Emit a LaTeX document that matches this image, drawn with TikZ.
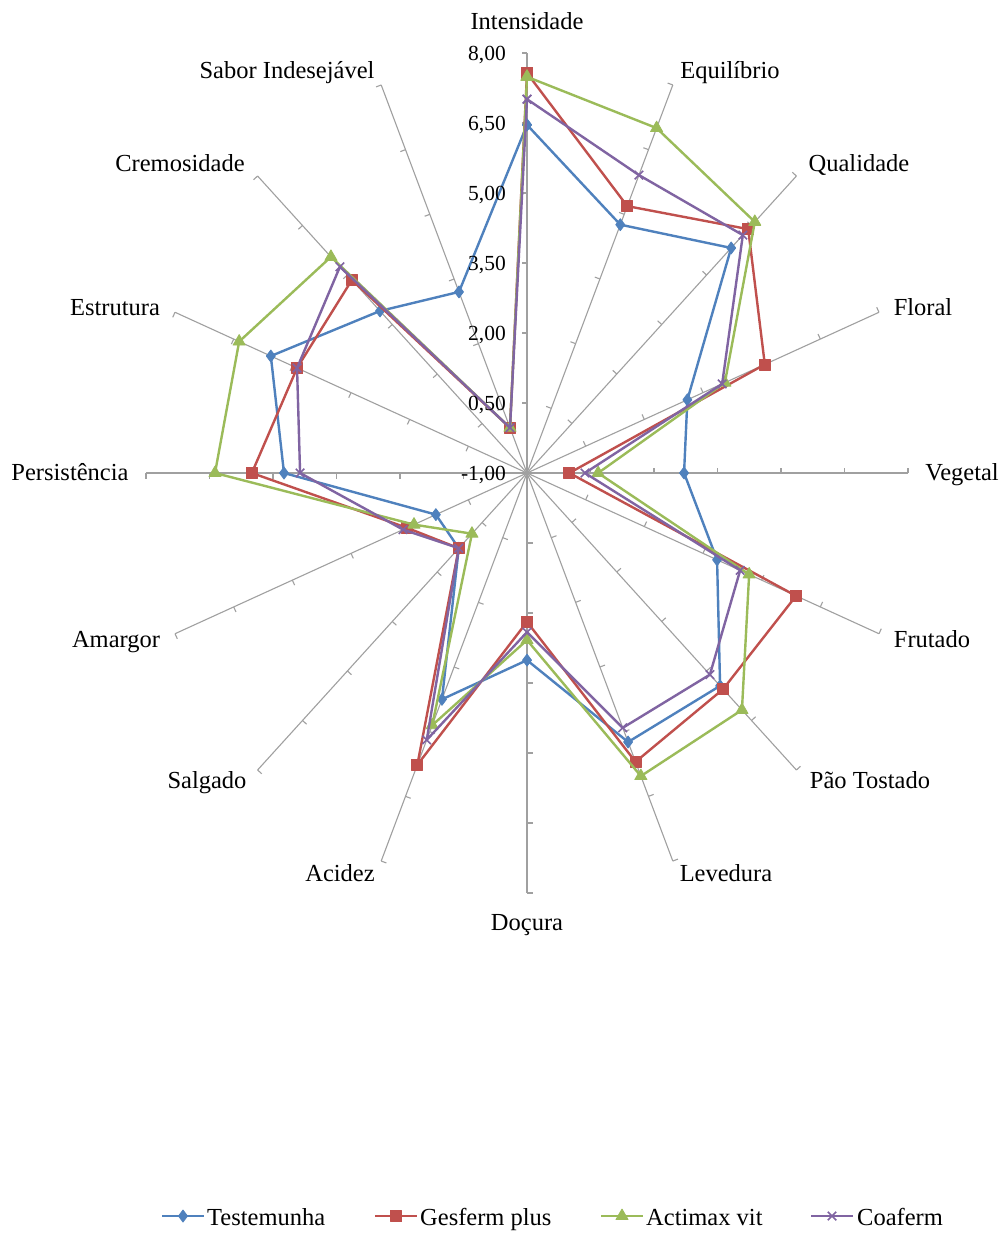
\documentclass[tikz,border=0pt]{standalone}
\usepackage{fontspec}
\setmainfont{Liberation Serif}
\usetikzlibrary{plotmarks}
\definecolor{cT}{HTML}{4F81BD}
\definecolor{cG}{HTML}{C0504D}
\definecolor{cA}{HTML}{9BBB59}
\definecolor{cC}{HTML}{8064A2}
\definecolor{axisgray}{HTML}{A0A0A0}
\tikzset{
  axisline/.style={draw=axisgray, line width=1.1pt},
  lbl/.style={font=\fontsize{24.5}{28}\selectfont, inner sep=0pt, anchor=base},
  vallbl/.style={font=\fontsize{21.5}{24}\selectfont, inner sep=0pt, anchor=base east},
  legtxt/.style={font=\fontsize{24.5}{28}\selectfont, inner sep=0pt, anchor=base west},
  serT/.style={draw=cT, line width=2.4pt, line join=round, mark=diamond*, mark size=6pt, mark options={solid, fill=cT, draw=cT, line width=0.8pt}},
  serG/.style={draw=cG, line width=2.4pt, line join=round, mark=square*, mark size=5.5pt, mark options={solid, fill=cG, draw=cG, line width=0.8pt}},
  serA/.style={draw=cA, line width=2.4pt, line join=round, mark=triangle*, mark size=7pt, mark options={solid, fill=cA, draw=cA, line width=0.8pt}},
  serC/.style={draw=cC, line width=2.4pt, line join=round, mark=x, mark size=6pt, mark options={solid, draw=cC, line width=1.6pt}},
}
\begin{document}
\begin{tikzpicture}[x=1pt,y=1pt]
\fill[white] (0,0) rectangle (1008,-1233);
\useasboundingbox (0,0) rectangle (1008,-1233);
\begin{scope}[shift={(527pt,-473pt)}, x={(381pt,0pt)}, y={(0pt,420pt)}]
  % axes and ticks
  \foreach \i in {0,...,15} {
    \pgfmathsetmacro\a{90-22.5*\i}
    \pgfmathsetmacro\n{sqrt((0.381*cos(\a))^2+(0.420*sin(\a))^2)}
    \pgfmathsetmacro\tx{-5.5*0.420*sin(\a)/\n}
    \pgfmathsetmacro\ty{5.5*0.381*cos(\a)/\n}
    \coordinate (E\i) at (\a:1);
    \draw[axisline] (0,0) -- (E\i);
    \foreach \k in {1,...,6} {
      \draw[axisline] (\a:\k/6) -- ++(\tx pt,\ty pt);
    }
  }
  % data coordinates
  \foreach \v [count=\i from 0] in {0.8289,0.6400,0.7578,0.4556,0.4122,0.5400,0.7167,0.6933,0.4456,0.5833,0.2533,0.2589,0.6378,0.7278,0.5456,0.4667} {
    \pgfmathsetmacro\a{90-22.5*\i}
    \coordinate (T\i) at (\a:\v);
  }
  \foreach \v [count=\i from 0] in {0.9522,0.6878,0.8211,0.6756,0.1111,0.7644,0.7278,0.7444,0.3544,0.7522,0.2533,0.3411,0.7222,0.6533,0.6500,0.1167} {
    \pgfmathsetmacro\a{90-22.5*\i}
    \coordinate (G\i) at (\a:\v);
  }
  \foreach \v [count=\i from 0] in {0.9433,0.8889,0.8456,0.5622,0.1867,0.6311,0.7978,0.7811,0.3978,0.6500,0.2044,0.3211,0.8189,0.8178,0.7278,0.1167} {
    \pgfmathsetmacro\a{90-22.5*\i}
    \coordinate (A\i) at (\a:\v);
  }
  \foreach \v [count=\i from 0] in {0.8900,0.7678,0.8011,0.5544,0.1522,0.6056,0.6789,0.6567,0.3789,0.6878,0.2533,0.3522,0.5956,0.6533,0.6944,0.1167} {
    \pgfmathsetmacro\a{90-22.5*\i}
    \coordinate (C\i) at (\a:\v);
  }
\end{scope}
% series
\draw[serT] plot coordinates {(T0) (T1) (T2) (T3) (T4) (T5) (T6) (T7) (T8) (T9) (T10) (T11) (T12) (T13) (T14) (T15) (T0)};
\draw[serG] plot coordinates {(G0) (G1) (G2) (G3) (G4) (G5) (G6) (G7) (G8) (G9) (G10) (G11) (G12) (G13) (G14) (G15) (G0)};
\draw[serA] plot coordinates {(A0) (A1) (A2) (A3) (A4) (A5) (A6) (A7) (A8) (A9) (A10) (A11) (A12) (A13) (A14) (A15) (A0)};
\draw[serC] plot coordinates {(C0) (C1) (C2) (C3) (C4) (C5) (C6) (C7) (C8) (C9) (C10) (C11) (C12) (C13) (C14) (C15) (C0)};
% value labels
\node[vallbl] (v1) at (506,-60.5) {8,00};
\node[vallbl] (v2) at (506,-130.5) {6,50};
\node[vallbl] (v3) at (506,-200.5) {5,00};
\node[vallbl] (v4) at (506,-270.5) {3,50};
\node[vallbl] (v5) at (506,-340.5) {2,00};
\node[vallbl] (v6) at (506,-410.5) {0,50};
\node[vallbl] (v7) at (506,-480.5) {-1,00};
% axis labels
\node[lbl] (l0) at (527,-30) {Intensidade};
\node[lbl] (l1) at (730,-79) {Equilíbrio};
\node[lbl] (l2) at (859,-172) {Qualidade};
\node[lbl] (l3) at (923,-315) {Floral};
\node[lbl] (l4) at (962,-480) {Vegetal};
\node[lbl] (l5) at (932,-647) {Frutado};
\node[lbl] (l6) at (870,-788) {Pão Tostado};
\node[lbl] (l7) at (726,-881) {Levedura};
\node[lbl] (l8) at (527,-930) {Doçura};
\node[lbl] (l9) at (340,-881) {Acidez};
\node[lbl] (l10) at (207,-788) {Salgado};
\node[lbl] (l11) at (116,-647) {Amargor};
\node[lbl] (l12) at (70,-480) {Persistência};
\node[lbl] (l13) at (115,-315) {Estrutura};
\node[lbl] (l14) at (180,-172) {Cremosidade};
\node[lbl] (l15) at (287,-79) {Sabor Indesejável};
% legend
\coordinate (LT1) at (162,-1216); \coordinate (LT2) at (183,-1216); \coordinate (LT3) at (204,-1216);
\coordinate (LG1) at (375,-1216); \coordinate (LG2) at (396,-1216); \coordinate (LG3) at (417,-1216);
\coordinate (LA1) at (601,-1216); \coordinate (LA2) at (622,-1216); \coordinate (LA3) at (643,-1216);
\coordinate (LC1) at (811,-1216); \coordinate (LC2) at (832,-1216); \coordinate (LC3) at (853,-1216);
\draw[serT, mark repeat=2, mark phase=2] plot coordinates {(LT1) (LT2) (LT3)};
\draw[serG, mark repeat=2, mark phase=2] plot coordinates {(LG1) (LG2) (LG3)};
\draw[serA, mark repeat=2, mark phase=2] plot coordinates {(LA1) (LA2) (LA3)};
\draw[serC, mark repeat=2, mark phase=2] plot coordinates {(LC1) (LC2) (LC3)};
\node[legtxt] (tT) at (207,-1225) {Testemunha};
\node[legtxt] (tG) at (420,-1225) {Gesferm plus};
\node[legtxt] (tA) at (646,-1225) {Actimax vit};
\node[legtxt] (tC) at (857,-1225) {Coaferm};
\end{tikzpicture}
\end{document}
